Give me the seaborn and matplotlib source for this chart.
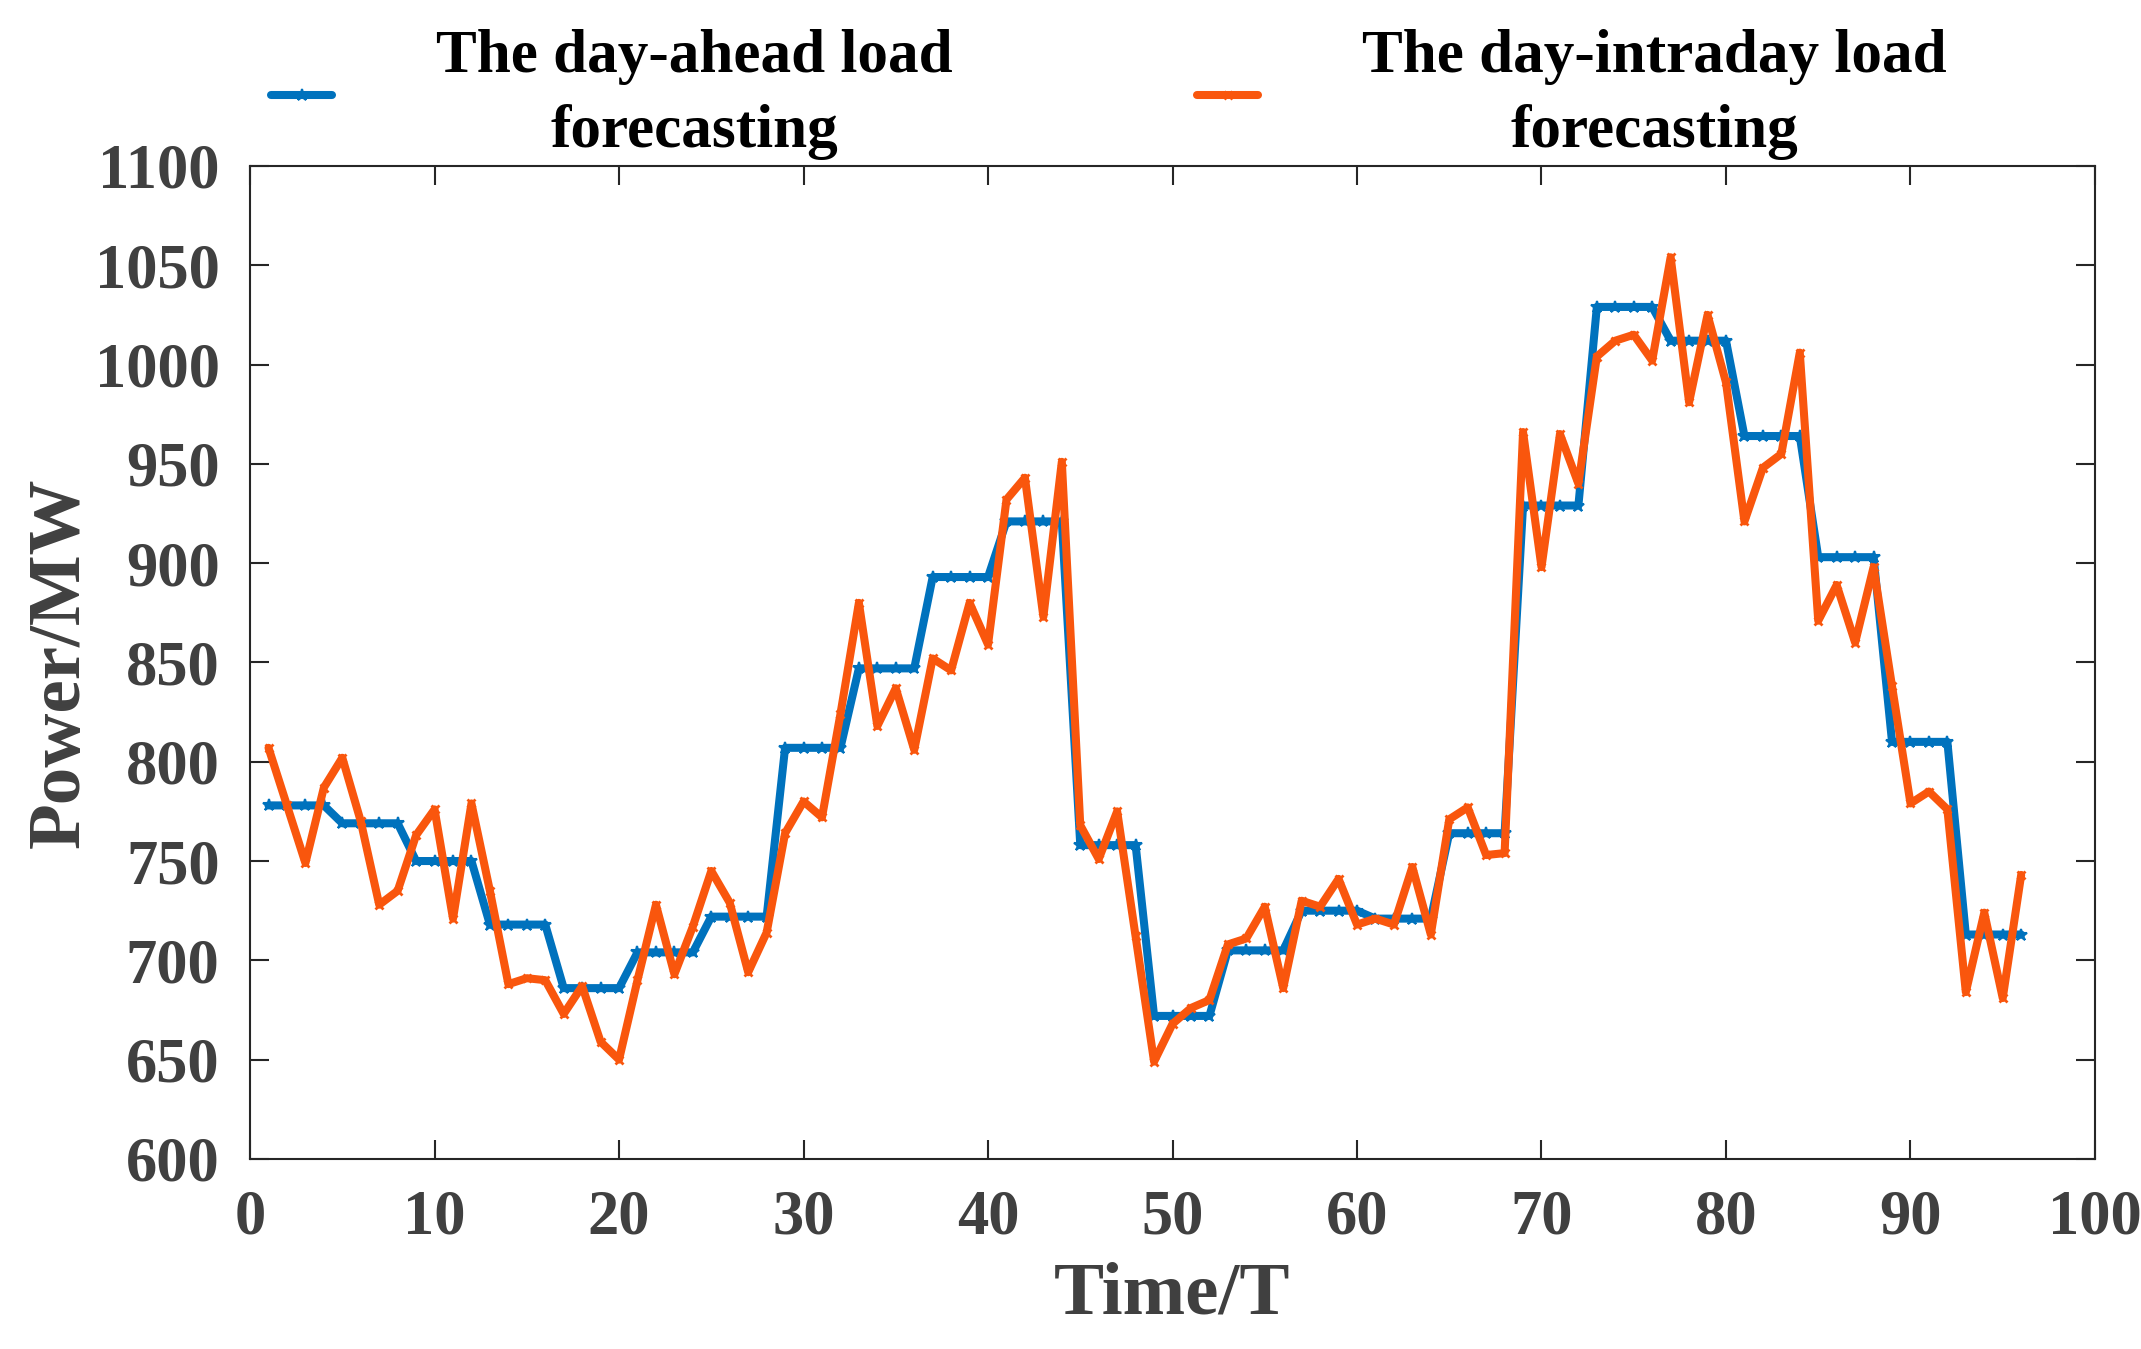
import matplotlib
matplotlib.use("Agg")
import matplotlib.pyplot as plt
import numpy as np
import pandas as pd
import seaborn as sns

# time steps (15 min slots) 1..96
time_T = list(range(1, 97))

day_ahead = [778, 778, 778, 778, 769, 769, 769, 769, 750, 750, 750, 750,
             718, 718, 718, 718, 686, 686, 686, 686, 704, 704, 704, 704,
             722, 722, 722, 722, 807, 807, 807, 807, 847, 847, 847, 847,
             893, 893, 893, 893, 921, 921, 921, 921, 758, 758, 758, 758,
             672, 672, 672, 672, 705, 705, 705, 705, 725, 725, 725, 725,
             721, 721, 721, 721, 764, 764, 764, 764, 929, 929, 929, 929,
             1029, 1029, 1029, 1029, 1012, 1012, 1012, 1012, 964, 964, 964, 964,
             903, 903, 903, 903, 810, 810, 810, 810, 713, 713, 713, 713]

intraday = [807, 778, 749, 787, 802, 770, 728, 735, 763, 776, 721, 779,
            735, 688, 691, 690, 673, 687, 659, 650, 690, 728, 693, 717,
            745, 729, 694, 714, 764, 780, 772, 824, 880, 818, 837, 806,
            852, 846, 880, 859, 932, 943, 873, 951, 768, 751, 775, 712,
            649, 668, 676, 680, 708, 711, 727, 686, 730, 727, 741, 718,
            721, 718, 747, 713, 771, 777, 753, 754, 966, 898, 965, 940,
            1004, 1012, 1015, 1002, 1054, 981, 1025, 991, 921, 948, 955, 1006,
            871, 889, 860, 898, 838, 779, 785, 776, 684, 724, 681, 743]

labels = ["The day-ahead load\nforecasting", "The day-intraday load\nforecasting"]
colors = ["#0072BD", "#F9560D"]

sns.set_theme(style="ticks")
plt.rcParams['font.family'] = ['Liberation Serif', 'DejaVu Serif']
plt.rcParams['font.weight'] = 'bold'

fig = plt.figure(figsize=(21.41, 13.49), dpi=100)
ax = fig.add_axes([0.1168, 0.1409, 0.8617, 0.7361])

sns.lineplot(x=time_T, y=day_ahead, ax=ax, color=colors[0], linewidth=5.8,
             marker='*', markersize=9, markeredgewidth=1.5, markeredgecolor=colors[0],
             label=labels[0])
sns.lineplot(x=time_T, y=intraday, ax=ax, color=colors[1], linewidth=5.8,
             marker='x', markersize=6, markeredgewidth=2, markeredgecolor=colors[1],
             label=labels[1])

ax.set_xlim(0, 100)
ax.set_ylim(600, 1100)
ax.set_xticks(np.arange(0, 101, 10))
ax.set_yticks(np.arange(600, 1101, 50))

ax.tick_params(direction='in', length=14, width=1.5, top=True, right=True,
               labelsize=45, colors='#262626', labelcolor='#404040', pad=22)
for lab in ax.get_xticklabels() + ax.get_yticklabels():
    lab.set_fontweight('bold')
for sp in ax.spines.values():
    sp.set_visible(True)
    sp.set_linewidth(1.5)
    sp.set_color('#262626')

ax.set_xlabel('Time/T', fontsize=54, fontweight='bold', color='#404040', labelpad=10)
ax.set_ylabel('Power/MW', fontsize=54, fontweight='bold', color='#404040', labelpad=0)

ax.legend_.remove()
handles, labs = ax.get_legend_handles_labels()
leg = fig.legend(handles, labs, loc='center', bbox_to_anchor=(0.518, 0.930),
                 ncol=2, frameon=False, fontsize=44, handlelength=1.0,
                 handletextpad=1.7, columnspacing=4.0, borderpad=0)
for t in leg.get_texts():
    t.set_multialignment('center')
    t.set_linespacing(1.45)
    t.set_fontweight('bold')
    t.set_color('black')

fig.savefig('out.png', dpi=100)
